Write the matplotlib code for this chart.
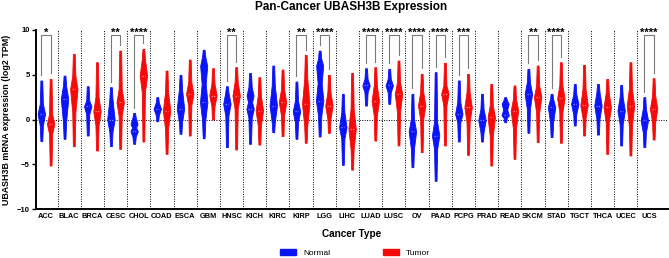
import numpy as np
import matplotlib
matplotlib.use('Agg')
import matplotlib.pyplot as plt
from matplotlib.patches import Patch

plt.rcParams['font.family'] = ['Liberation Sans', 'DejaVu Sans']

cancers = ['ACC', 'BLAC', 'BRCA', 'CESC', 'CHOL', 'COAD', 'ESCA', 'GBM', 'HNSC',
           'KICH', 'KIRC', 'KIRP', 'LGG', 'LIHC', 'LUAD', 'LUSC', 'OV', 'PAAD',
           'PCPG', 'PRAD', 'READ', 'SKCM', 'STAD', 'TGCT', 'THCA', 'UCEC', 'UCS']

# violin outlines: min, lower body, peak, upper body, max
normal_min   = [-2.42, -2.16, -1.79, -2.98, -2.72, -0.19, -1.60, -2.09, -3.09,
                -2.72, -1.42, -2.16, -1.90, -5.07, 1.56, 1.75, -5.33, -6.85,
                -2.46, -2.46, -0.30, -1.49, -1.97, -0.67, -1.68, -2.90, -3.09]
normal_blo   = [-0.67, -0.30, 0.60, -1.40, -1.90, 0.50, -0.30, 0.00, 0.45,
                0.20, -0.30, -0.30, 0.45, -2.16, 3.05, 3.05, -3.28, -3.28,
                -0.30, -1.42, 0.20, 1.20, -0.30, 0.60, 0.07, -0.50, -1.42]
normal_peak  = [0.63, 2.30, 1.49, 0.00, -1.30, 1.20, 1.20, 1.93, 1.75,
                1.20, 1.56, 0.90, 2.10, -0.86, 3.80, 3.80, -1.34, -1.79,
                0.63, -0.11, 0.45, 2.87, 1.38, 1.75, 1.56, 1.00, -0.11]
normal_peak2 = [None, None, None, None, -0.50, None, None, 6.00, None,
                2.68, None, None, 6.03, None, None, None, None, None,
                None, None, 1.75, None, None, None, None, None, None]
normal_bhi   = [1.75, 3.80, 2.10, 2.30, 0.20, 1.90, 3.40, 7.00, 3.05,
                3.60, 3.80, 2.10, 6.78, 0.82, 4.54, 4.54, 0.07, -0.30,
                1.93, 1.20, 2.20, 4.17, 2.30, 2.80, 3.05, 2.50, 1.20]
normal_max   = [4.36, 4.90, 3.72, 3.61, 0.74, 2.50, 4.99, 7.80, 3.72,
                5.20, 6.03, 4.24, 7.70, 2.87, 5.73, 5.66, 2.87, 5.29,
                4.36, 2.87, 2.50, 5.66, 2.87, 3.98, 3.98, 3.87, 2.50]

tumor_min  = [-5.14, -2.98, -3.46, -3.28, -2.46, -3.84, -1.79, 0.00, -3.35,
              -2.80, -1.86, -2.60, -1.49, -5.60, -2.35, -2.90, -3.65, -2.90,
              -3.95, -5.14, -4.40, -2.53, -2.60, -1.79, -3.84, -4.02, -2.24]
tumor_blo  = [-1.60, 0.80, -0.67, 0.45, 3.05, -1.00, 1.56, 1.50, 1.20,
              -0.67, 0.45, -0.67, 0.07, -3.28, 0.45, 0.82, 0.07, 1.56,
              -0.30, -1.79, -1.00, 0.82, 0.82, 0.20, -0.30, -0.67, -0.30]
tumor_peak = [-0.49, 3.40, 0.90, 1.90, 4.90, 1.00, 2.87, 2.68, 2.68,
              1.00, 1.93, 1.75, 1.56, -1.04, 2.10, 2.87, 1.56, 2.87,
              1.38, 0.26, 1.00, 2.50, 2.38, 1.60, 1.38, 1.56, 1.20]
tumor_bhi  = [0.63, 4.90, 2.50, 3.40, 6.78, 3.05, 4.17, 4.00, 4.17,
              2.68, 3.40, 4.54, 3.05, 1.20, 3.80, 4.17, 3.05, 3.80,
              3.05, 1.56, 2.30, 3.80, 3.80, 3.40, 3.00, 3.40, 2.68]
tumor_max  = [4.54, 7.33, 6.40, 7.70, 7.90, 5.47, 6.70, 5.73, 5.85,
              4.73, 5.58, 7.22, 4.99, 5.20, 5.85, 6.59, 5.10, 6.33,
              5.10, 3.98, 3.80, 6.03, 6.40, 6.10, 4.54, 6.40, 4.62]

signif = ['*', '', '', '**', '****', '', '', '', '**',
          '', '', '**', '****', '', '****', '****', '****', '****',
          '***', '', '', '**', '****', '', '', '', '****']

BLUE = '#0a14f5'
RED = '#f50a0a'
OFF = 0.2
VW = 0.32


def profile(lo, blo, pk, pk2, bhi, hi):
    if pk2 is None:
        coords = [lo, blo, pk, bhi, hi]
        vals = [0.25, 0.42, 1.0, 0.42, 0.25]
    else:
        coords = [lo, blo, pk, (pk + pk2) / 2, pk2, bhi, hi]
        vals = [0.25, 0.45, 1.0, 0.55, 0.95, 0.45, 0.25]
    return dict(coords=np.array(coords), vals=np.array(vals),
                mean=pk, median=pk, min=lo, max=hi)


fig = plt.figure(figsize=(6.69, 2.58), dpi=100)
ax = fig.add_axes([36/669, 49/258, 632/669, 179/258])

n = len(cancers)
x = np.arange(n)
stats_n = [profile(normal_min[i], normal_blo[i], normal_peak[i], normal_peak2[i],
                   normal_bhi[i], normal_max[i]) for i in range(n)]
stats_t = [profile(tumor_min[i], tumor_blo[i], tumor_peak[i], None,
                   tumor_bhi[i], tumor_max[i]) for i in range(n)]

for stats, pos, col, light in [(stats_n, x - OFF, BLUE, '#7f8cff'),
                               (stats_t, x + OFF, RED, '#ff8f8f')]:
    parts = ax.violin(stats, positions=pos, widths=VW, showmeans=False,
                      showextrema=False, showmedians=False)
    for body in parts['bodies']:
        body.set_facecolor(col)
        body.set_edgecolor(col)
        body.set_linewidth(0.6)
        body.set_alpha(1)
        body.set_zorder(3)
    for p, s in zip(pos, stats):
        ax.plot([p - 0.07, p + 0.07], [s['median'], s['median']], color=light,
                lw=0.9, ls=(0, (1, 1)), zorder=4)

# separators and zero line
for i in range(n - 1):
    ax.axvline(i + 0.5, color='black', lw=0.7, ls=(0, (1, 1.5)), zorder=1)
ax.axhline(0, color='black', lw=0.7, ls=(0, (1, 1.5)), zorder=1)

# significance brackets
for i, s in enumerate(signif):
    if not s:
        continue
    yb = 9.4
    ax.plot([i - OFF, i - OFF, i + OFF, i + OFF],
            [normal_max[i] + 0.6, yb, yb, tumor_max[i] + 0.6],
            color='#7a7a7a', lw=0.8, clip_on=False, zorder=2)
    ax.text(i, yb - 0.25, s, ha='center', va='bottom', fontsize=8,
            fontweight='bold', clip_on=False)

ax.set_xlim(-0.43, 26.82)
ax.set_ylim(-10, 10)
ax.set_yticks([-10, -5, 0, 5, 10])
ax.set_xticks(x)
ax.set_xticklabels(cancers, fontsize=5.3, fontweight='bold')
ax.tick_params(axis='x', length=0, pad=3)
ax.tick_params(axis='y', length=3, width=1.0, pad=1.5, labelsize=5.5)
for lab in ax.get_yticklabels():
    lab.set_fontweight('bold')
for sp in ['top', 'right']:
    ax.spines[sp].set_visible(False)
ax.spines['left'].set_linewidth(1.4)
ax.spines['bottom'].set_linewidth(1.4)

ax.set_ylabel('UBASH3B mRNA expression (log2 TPM)', fontsize=6.4, fontweight='bold')
ax.yaxis.set_label_coords(-0.039, 0.5)

fig.text(351/669, 1 - 7/258, 'Pan-Cancer UBASH3B Expression', ha='center',
         va='center', fontsize=8.5, fontweight='bold')
fig.text(352/669, 1 - 234/258, 'Cancer Type', ha='center', va='center',
         fontsize=7.2, fontweight='bold')

handles = [Patch(facecolor=BLUE, edgecolor=BLUE, label='Normal'),
           Patch(facecolor=RED, edgecolor=RED, label='Tumor')]
fig.legend(handles=handles, loc='center', bbox_to_anchor=(355/669, 5/258),
           ncol=2, frameon=False, fontsize=6, handlelength=2.0,
           handleheight=0.8, handletextpad=0.8, columnspacing=6.3)

plt.savefig('out.png', dpi=100)
